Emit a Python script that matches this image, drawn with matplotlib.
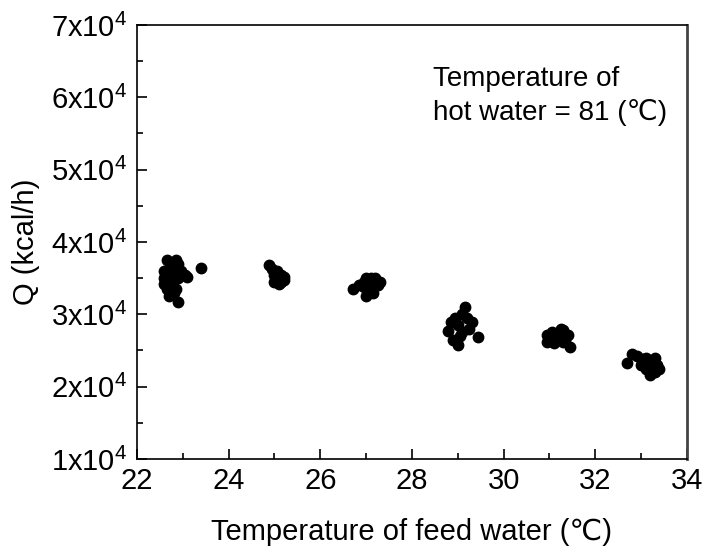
import matplotlib.pyplot as plt
from matplotlib.ticker import MultipleLocator, FuncFormatter

plt.rcParams['font.family'] = ['Liberation Sans', 'DejaVu Sans']
plt.rcParams['mathtext.fontset'] = 'custom'
plt.rcParams['mathtext.rm'] = 'Liberation Sans'

# feed water temperature (C) and heat output Q (kcal/h)
feed_temp = [22.65, 22.85, 22.6, 22.7, 22.8, 22.9, 22.95, 23.0, 22.6, 22.7,
             22.8, 22.9, 23.05, 22.65, 22.75, 22.85, 22.7, 22.8, 22.65, 22.9,
             22.6, 22.75, 22.85, 23.1, 23.4,
             24.88, 24.95, 25.0, 25.05, 25.1, 25.15, 25.2, 25.0, 25.1, 25.2,
             25.05, 25.15,
             26.72, 26.85, 26.95, 27.0, 27.05, 27.1, 27.2, 27.3, 27.0, 27.1,
             27.15, 27.25, 26.95,
             28.78, 28.85, 28.95, 29.0, 29.05, 29.1, 29.15, 29.2, 29.25, 29.3,
             28.9, 29.0, 29.1, 29.45,
             30.95, 30.95, 31.0, 31.1, 31.05, 31.2, 31.25, 31.3, 31.35, 31.4,
             31.45, 31.3,
             32.7, 32.8, 32.9, 33.0, 33.05, 33.1, 33.15, 33.2, 33.25, 33.3,
             33.3, 33.35, 33.4, 33.1, 33.2]
q_out = [3.75, 3.75, 3.6, 3.62, 3.65, 3.7, 3.6, 3.55, 3.5, 3.45,
         3.5, 3.5, 3.55, 3.35, 3.4, 3.35, 3.25, 3.3, 3.42, 3.17,
         3.42, 3.55, 3.6, 3.52, 3.64,
         3.68, 3.62, 3.55, 3.6, 3.5, 3.55, 3.48, 3.45, 3.42, 3.52,
         3.5, 3.45,
         3.35, 3.4, 3.45, 3.5, 3.48, 3.5, 3.5, 3.45, 3.25, 3.35,
         3.3, 3.4, 3.38,
         2.77, 2.9, 2.95, 2.85, 2.7, 3.0, 3.1, 2.95, 2.8, 2.9,
         2.65, 2.58, 2.75, 2.68,
         2.62, 2.72, 2.68, 2.6, 2.75, 2.7, 2.8, 2.78, 2.65, 2.72,
         2.55, 2.62,
         2.33, 2.45, 2.42, 2.3, 2.38, 2.25, 2.35, 2.2, 2.3, 2.2,
         2.4, 2.3, 2.25, 2.4, 2.16]
q_out = [v * 1e4 for v in q_out]

fig = plt.figure(figsize=(7.06, 5.55), dpi=100)
ax = fig.add_axes([0.194, 0.173, 0.779, 0.782])

ax.plot(feed_temp, q_out, 'o', color='black', markersize=7.5, linestyle='none')

ax.set_xlim(22, 34)
ax.set_ylim(1e4, 7e4)
ax.xaxis.set_major_locator(MultipleLocator(2))
ax.xaxis.set_minor_locator(MultipleLocator(1))
ax.yaxis.set_major_locator(MultipleLocator(1e4))
ax.yaxis.set_minor_locator(MultipleLocator(0.5e4))
ax.yaxis.set_major_formatter(FuncFormatter(
    lambda v, p: r'$\mathregular{%dx10^4}$' % round(v / 1e4)))

ax.tick_params(which='both', direction='in', top=False, right=False,
               labelsize=21, width=1.2)
ax.tick_params(which='major', length=7)
ax.tick_params(which='minor', length=4)
ax.tick_params(axis='x', pad=6)
ax.tick_params(axis='y', pad=7)
for s in ax.spines.values():
    s.set_linewidth(1.2)
ax.spines['right'].set_color('#444444')
ax.spines['right'].set_linewidth(2)

ax.set_xlabel('Temperature of feed water (℃)', fontsize=21, labelpad=16)
ax.set_ylabel('Q (kcal/h)', fontsize=21, labelpad=8)

ax.text(0.538, 0.905, 'Temperature of\nhot water = 81 (℃)', transform=ax.transAxes,
        fontsize=20, va='top', ha='left', linespacing=1.3)

fig.savefig('out.png', dpi=100)
